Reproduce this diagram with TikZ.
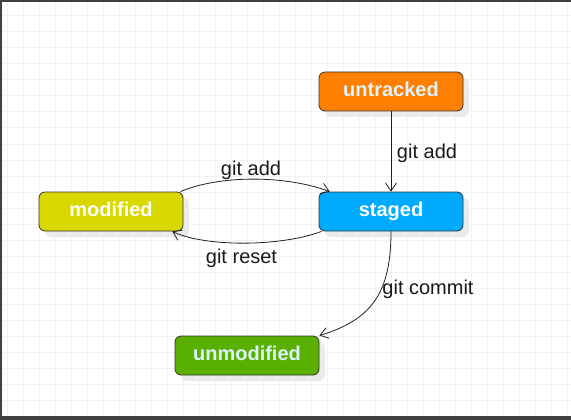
\documentclass[tikz,border=0pt]{standalone}
\usepackage{fontspec}
\setmainfont{Liberation Sans}
\usetikzlibrary{arrows.meta,shadows}
\definecolor{gridc}{HTML}{F2F2F2}
\definecolor{framec}{HTML}{404040}
\definecolor{cOrange}{HTML}{FF8000}
\definecolor{cBlue}{HTML}{00AAFF}
\definecolor{cYellow}{HTML}{D9D700}
\definecolor{cGreen}{HTML}{5AB000}
\definecolor{txtLight}{HTML}{DDF4FF}
\definecolor{edgec}{HTML}{222222}
\tikzset{
  gridline/.style={draw=gridc, line width=1pt},
  statebox/.style={rectangle, rounded corners=6pt, draw=black!80, line width=0.8pt,
    minimum width=144pt, minimum height=39pt, inner sep=0pt,
    text height=14.5pt, text depth=4.2pt,
    font=\fontsize{20}{24}\selectfont\bfseries,
    drop shadow={shadow xshift=6pt, shadow yshift=-6pt, fill=black!8, opacity=1}},
  edge/.style={draw=edgec, line width=0.8pt, -{Straight Barb[length=8pt,width=11pt]}},
  lbl/.style={font=\fontsize{20}{24}\selectfont, text=black!90, inner sep=0pt}
}
\begin{document}
\begin{tikzpicture}[x=1pt,y=-1pt]
\useasboundingbox (0,0) rectangle (571,420);
\fill[white] (0,0) rectangle (571,420);
% grid
\foreach \i in {0,...,35} \draw[gridline] ({7.33+16*\i},0) -- ({7.33+16*\i},420);
\foreach \j in {1,...,26} \draw[gridline] (0,{16*\j}) -- (571,{16*\j});
% frame
\fill[framec] (0,0) rectangle (571,2);
\fill[framec] (0,0) rectangle (2,420);
\fill[framec] (0,416) rectangle (571,420);
% nodes
\node[statebox, fill=cOrange, text=txtLight] (unt) at (391,91.5) {untracked};
\node[statebox, fill=cBlue, text=white] (stg) at (391,211.5) {staged};
\node[statebox, fill=cYellow, text=white] (mod) at (111,211.5) {modified};
\node[statebox, fill=cGreen, text=txtLight] (unm) at (247,355.5) {unmodified};
% edges
\draw[edge] (unt.south) -- (stg.north);
\draw[edge] (mod.16) .. controls (220,175) and (285,175) .. (stg.162);
\draw[edge] (stg.196) .. controls (280,247) and (205,247) .. (mod.-18);
\draw[edge] (stg.south) .. controls (391,295) and (370,320) .. (unm.north east);
% labels
\node[lbl] (l1) at (427,153) {git add};
\node[lbl] (l2) at (251,170) {git add};
\node[lbl] (l3) at (241.5,258) {git reset};
\node[lbl] (l4) at (428,289.5) {git commit};
\end{tikzpicture}
\end{document}
